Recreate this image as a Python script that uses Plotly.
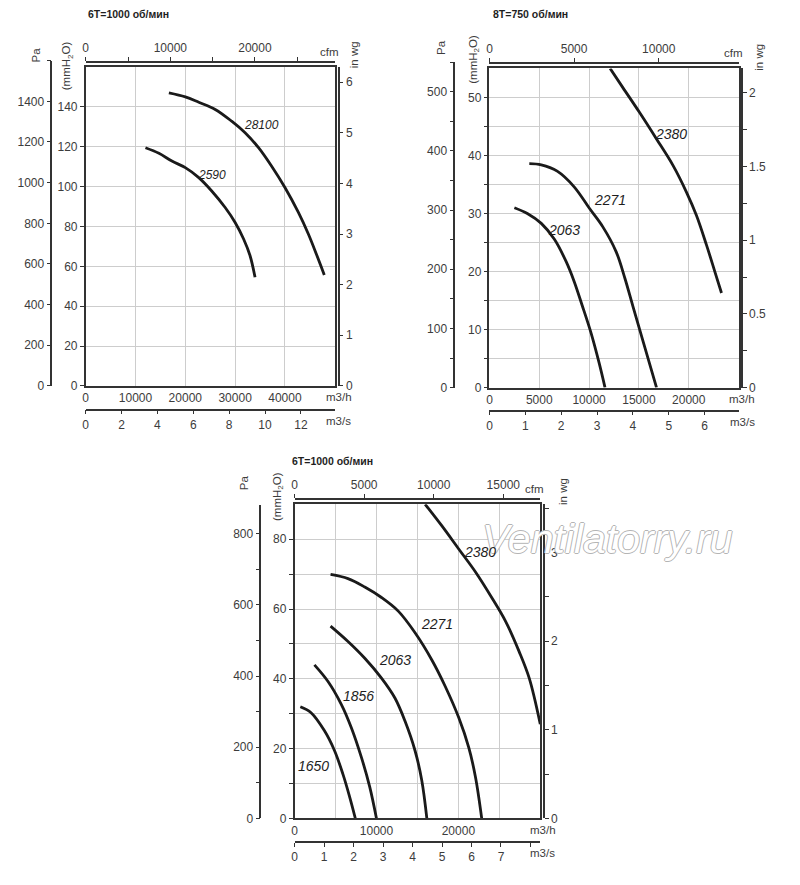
import plotly.graph_objects as go

W, H = 800, 885
PA_PER_MM = 9.80665
MM_PER_INWG = 25.4
M3H_PER_CFM = 1.699
M3H_PER_M3S = 3600.0

# --- panel 1: 6T=1000 об/мин (flow m3/h, pressure mmH2O) ---
p1_title = '6T=1000 об/мин'
p1_names = ['28100', '2590']
p1_flow = [
    [16700, 20000, 22700, 26000, 29300, 32000, 34700, 37300, 40000, 42700, 44700, 46300, 47900],
    [12000, 14700, 17300, 20000, 22700, 25300, 28000, 30000, 31700, 33000, 34000],
]
p1_press = [
    [147.0, 145.0, 142.3, 138.7, 132.8, 127.0, 119.5, 110.3, 99.5, 87.0, 76.2, 66.2, 55.7],
    [119.5, 116.7, 112.8, 109.5, 104.5, 97.8, 89.5, 82.0, 73.7, 65.3, 54.5],
]
p1_label_flow = [35200, 25300]
p1_label_press = [130.7, 105.7]

# --- panel 2: 8T=750 об/мин ---
p2_title = '8T=750 об/мин'
p2_names = ['2380', '2271', '2063']
p2_flow = [
    [12110, 13390, 15070, 16750, 18420, 19770, 20770, 21780, 22620, 23290],
    [4000, 5200, 6800, 8500, 10030, 11380, 12720, 13600, 14400, 15500, 16770],
    [2500, 3800, 5200, 6500, 7700, 8500, 9300, 10200, 11000, 11600],
]
p2_press = [
    [55.0, 51.7, 47.4, 42.9, 38.3, 33.7, 29.7, 24.6, 20.0, 16.3],
    [38.6, 38.4, 37.3, 34.6, 30.9, 27.7, 23.4, 18.8, 14.0, 7.5, 0.0],
    [31.0, 30.0, 28.3, 25.6, 21.7, 18.3, 14.2, 9.4, 4.3, 0.0],
]
p2_label_flow = [18250, 12050, 7500]
p2_label_press = [43.7, 32.3, 27.1]

# --- panel 3: 6T=1000 об/мин ---
p3_title = '6T=1000 об/мин'
p3_names = ['2380', '2271', '2063', '1856', '1650']
p3_flow = [
    [15940, 17990, 20040, 22090, 24140, 25780, 27420, 28650, 30000],
    [4390, 6520, 8570, 10610, 12660, 14710, 16760, 18400, 20040, 21270, 22090, 22850],
    [4390, 6520, 8570, 10610, 12250, 13480, 14710, 15530, 16150],
    [2420, 4060, 5700, 6930, 8160, 9180, 10000],
    [700, 2010, 3650, 4880, 5900, 6720, 7420],
]
p3_press = [
    [90.0, 83.8, 77.2, 70.6, 63.0, 56.4, 47.8, 40.2, 27.0],
    [69.9, 68.7, 66.3, 63.3, 59.4, 53.2, 45.4, 37.8, 28.9, 20.3, 11.8, 0.0],
    [55.1, 50.7, 45.9, 40.2, 34.5, 27.9, 19.4, 10.9, 0.0],
    [44.0, 39.3, 32.7, 26.0, 17.5, 9.0, 0.0],
    [32.0, 30.3, 25.1, 19.4, 12.7, 6.2, 0.0],
]
p3_label_flow = [22700, 17380, 12250, 7750, 2340]
p3_label_press = [76.3, 55.6, 45.3, 35.0, 15.1]

# --- axis ranges and ticks ---
p1_q_max, p1_mm_max, p1_pa_max = 50000, 160, 1600
p1_q_ticks = [0, 10000, 20000, 30000, 40000]
p1_q_minor = []
p1_mm_ticks = [0, 20, 40, 60, 80, 100, 120, 140]
p1_mm_minor = []
p1_pa_ticks = [0, 200, 400, 600, 800, 1000, 1200, 1400]
p1_pa_minor = [1600]
p1_wg_ticks = [0, 1, 2, 3, 4, 5, 6]
p1_wg_minor = []
p1_cfm_ticks = [0, 10000, 20000]
p1_cfm_minor = [5000, 15000, 25000]
p1_m3s_ticks = [0, 2, 4, 6, 8, 10, 12]
p1_m3s_minor = []

p2_q_max, p2_mm_max, p2_pa_max = 25000, 55, 550
p2_q_ticks = [0, 5000, 10000, 15000, 20000]
p2_q_minor = []
p2_mm_ticks = [0, 10, 20, 30, 40, 50]
p2_mm_minor = [5, 15, 25, 35, 45]
p2_pa_ticks = [0, 100, 200, 300, 400, 500]
p2_pa_minor = [50, 150, 250, 350, 450, 550]
p2_wg_ticks = [0, 0.5, 1, 1.5, 2]
p2_wg_minor = [0.25, 0.75, 1.25, 1.75]
p2_cfm_ticks = [0, 5000, 10000]
p2_cfm_minor = []
p2_m3s_ticks = [0, 1, 2, 3, 4, 5, 6]
p2_m3s_minor = []

p3_q_max, p3_mm_max, p3_pa_max = 30000, 90, 880
p3_q_ticks = [0, 10000, 20000]
p3_q_minor = [5000, 15000, 25000]
p3_mm_ticks = [0, 20, 40, 60, 80]
p3_mm_minor = [10, 30, 50, 70]
p3_pa_ticks = [0, 200, 400, 600, 800]
p3_pa_minor = [100, 300, 500, 700]
p3_wg_ticks = [0, 1, 2, 3]
p3_wg_minor = [0.5, 1.5, 2.5, 3.5]
p3_cfm_ticks = [0, 5000, 10000, 15000]
p3_cfm_minor = []
p3_m3s_ticks = [0, 1, 2, 3, 4, 5, 6, 7]
p3_m3s_minor = [8]

panels = [
    dict(title=p1_title, names=p1_names, flow=p1_flow, press=p1_press,
         lab_q=p1_label_flow, lab_p=p1_label_press,
         q_max=p1_q_max, mm_max=p1_mm_max, pa_max=p1_pa_max,
         q_ticks=p1_q_ticks, q_minor=p1_q_minor, mm_ticks=p1_mm_ticks, mm_minor=p1_mm_minor,
         pa_ticks=p1_pa_ticks, pa_minor=p1_pa_minor, wg_ticks=p1_wg_ticks, wg_minor=p1_wg_minor,
         cfm_ticks=p1_cfm_ticks, cfm_minor=p1_cfm_minor,
         m3s_ticks=p1_m3s_ticks, m3s_minor=p1_m3s_minor),
    dict(title=p2_title, names=p2_names, flow=p2_flow, press=p2_press,
         lab_q=p2_label_flow, lab_p=p2_label_press,
         q_max=p2_q_max, mm_max=p2_mm_max, pa_max=p2_pa_max,
         q_ticks=p2_q_ticks, q_minor=p2_q_minor, mm_ticks=p2_mm_ticks, mm_minor=p2_mm_minor,
         pa_ticks=p2_pa_ticks, pa_minor=p2_pa_minor, wg_ticks=p2_wg_ticks, wg_minor=p2_wg_minor,
         cfm_ticks=p2_cfm_ticks, cfm_minor=p2_cfm_minor,
         m3s_ticks=p2_m3s_ticks, m3s_minor=p2_m3s_minor),
    dict(title=p3_title, names=p3_names, flow=p3_flow, press=p3_press,
         lab_q=p3_label_flow, lab_p=p3_label_press,
         q_max=p3_q_max, mm_max=p3_mm_max, pa_max=p3_pa_max,
         q_ticks=p3_q_ticks, q_minor=p3_q_minor, mm_ticks=p3_mm_ticks, mm_minor=p3_mm_minor,
         pa_ticks=p3_pa_ticks, pa_minor=p3_pa_minor, wg_ticks=p3_wg_ticks, wg_minor=p3_wg_minor,
         cfm_ticks=p3_cfm_ticks, cfm_minor=p3_cfm_minor,
         m3s_ticks=p3_m3s_ticks, m3s_minor=p3_m3s_minor),
]

# pixel geometry of each panel (plot box, extra axis lines, label spots)
geo = [
    dict(left=83, right=333, top=67.5, bottom=389, pa_x=48.5, wg_x=337, cfm_y=62.5, m3s_y=413,
         lab_size=12, title_xy=(83, 14), pa_xy=(33, 55), mm_xy=(65, 66), wg_xy=(352, 55),
         cfm_xy=(328, 52), m3h_xy=(337, 400), m3s_xy=(337, 424)),
    dict(left=488.3, right=738.3, top=69, bottom=390.7, pa_x=453, wg_x=741.7, cfm_y=63.5, m3s_y=414,
         lab_size=14, title_xy=(490, 14), pa_xy=(439, 48), mm_xy=(472, 60), wg_xy=(758, 58),
         cfm_xy=(733, 53), m3h_xy=(742, 402), m3s_xy=(742, 425)),
    dict(left=292.7, right=539.3, top=508.3, bottom=825, pa_x=258.3, wg_x=543, cfm_y=503, m3s_y=849,
         lab_size=14, title_xy=(288, 465), pa_xy=(242, 487), mm_xy=(276, 500), wg_xy=(562, 495),
         cfm_xy=(533, 493), m3h_xy=(542, 837), m3s_xy=(542, 860)),
]

AX_COLOR = '#333333'
GRID_COLOR = '#cdcdcd'
TXT_COLOR = '#3c3c3c'


def fx(px):
    return px / W


def fy(py):
    return 1 - py / H


def ax_id(letter, k):
    return letter if k == 1 else f'{letter}{k}'


def ax_key(letter, k):
    return f'{letter}axis' if k == 1 else f'{letter}axis{k}'


fig = go.Figure()
axes = {}
annotations = []

# watermark first so that everything else sits above it
annotations.append(dict(
    text='<i>Ventilatorry.ru</i>', x=fx(607), y=fy(543), xref='paper', yref='paper',
    xanchor='center', yanchor='middle', showarrow=False,
    font=dict(family='Liberation Sans, Arial, sans-serif', size=41, color='#ffffff',
              shadow='1px 0 #b4b4b4, -1px 0 #b4b4b4, 0 1px #b4b4b4, 0 -1px #b4b4b4'),
))

for i, (pn, g) in enumerate(zip(panels, geo)):
    n = 3 * i + 1
    xm, xc, xs = ax_id('x', n), ax_id('x', n + 1), ax_id('x', n + 2)
    ym, yp, yw = ax_id('y', n), ax_id('y', n + 1), ax_id('y', n + 2)

    px_per_mm = (g['bottom'] - g['top']) / pn['mm_max']
    pa_top_px = g['bottom'] - pn['pa_max'] * px_per_mm / PA_PER_MM

    line = dict(showline=True, linecolor=AX_COLOR, linewidth=1.5, zeroline=False,
                tickcolor=AX_COLOR, tickwidth=1.2, fixedrange=True, tickformat='d')

    # main flow axis (m3/h) and pressure axis (mmH2O)
    axes[ax_key('x', n)] = dict(
        line, domain=[fx(g['left']), fx(g['right'])], anchor=ym, range=[0, pn['q_max']],
        tickmode='array', tickvals=pn['q_ticks'], ticks='', mirror=True,
        showgrid=True, gridcolor=GRID_COLOR, gridwidth=1.3,
        minor=dict(tickvals=pn['q_minor'], showgrid=True, gridcolor=GRID_COLOR, gridwidth=1.3),
    )
    axes[ax_key('y', n)] = dict(
        line, domain=[fy(g['bottom']), fy(g['top'])], anchor=xm, range=[0, pn['mm_max']],
        tickmode='array', tickvals=pn['mm_ticks'], ticks='outside', ticklen=4, mirror=True,
        showgrid=True, gridcolor=GRID_COLOR, gridwidth=1.3,
        minor=dict(tickvals=pn['mm_minor'], ticks='outside', ticklen=4, tickcolor=AX_COLOR,
                   showgrid=True, gridcolor=GRID_COLOR, gridwidth=1.3),
    )
    # secondary scales
    axes[ax_key('x', n + 1)] = dict(
        line, overlaying=xm, anchor='free', position=fy(g['cfm_y']), side='top',
        range=[0, pn['q_max'] / M3H_PER_CFM], tickmode='array', tickvals=pn['cfm_ticks'],
        ticks='outside', ticklen=4, showgrid=False,
        minor=dict(tickvals=pn['cfm_minor'], ticks='outside', ticklen=4, tickcolor=AX_COLOR),
    )
    axes[ax_key('x', n + 2)] = dict(
        line, overlaying=xm, anchor='free', position=fy(g['m3s_y']), side='bottom',
        range=[0, pn['q_max'] / M3H_PER_M3S], tickmode='array', tickvals=pn['m3s_ticks'],
        ticks='outside', ticklen=4, showgrid=False,
        minor=dict(tickvals=pn['m3s_minor'], ticks='outside', ticklen=4, tickcolor=AX_COLOR),
    )
    axes[ax_key('y', n + 1)] = dict(
        line, domain=[fy(g['bottom']), fy(pa_top_px)], anchor='free', position=fx(g['pa_x']),
        side='left', range=[0, pn['pa_max']], tickmode='array', tickvals=pn['pa_ticks'],
        ticks='outside', ticklen=4, showgrid=False,
        minor=dict(tickvals=pn['pa_minor'], ticks='outside', ticklen=4, tickcolor=AX_COLOR),
    )
    axes[ax_key('y', n + 2)] = dict(
        line, overlaying=ym, anchor='free', position=fx(g['wg_x']), side='right',
        range=[0, pn['mm_max'] / MM_PER_INWG], tickmode='array', tickvals=pn['wg_ticks'],
        tickformat='', ticks='outside', ticklen=4, showgrid=False,
        minor=dict(tickvals=pn['wg_minor'], ticks='outside', ticklen=4, tickcolor=AX_COLOR),
    )

    # empty traces so the extra scales get drawn
    fig.add_trace(go.Scatter(x=[], y=[], xaxis=xc, yaxis=yp, showlegend=False, hoverinfo='skip'))
    fig.add_trace(go.Scatter(x=[], y=[], xaxis=xs, yaxis=yw, showlegend=False, hoverinfo='skip'))

    # fan curves
    for name, q, p in zip(pn['names'], pn['flow'], pn['press']):
        fig.add_trace(go.Scatter(
            x=q, y=p, xaxis=xm, yaxis=ym, mode='lines', name=name, showlegend=False,
            line=dict(color='#1a1a1a', width=2.8, shape='spline', smoothing=1.0),
        ))
    for name, q, p in zip(pn['names'], pn['lab_q'], pn['lab_p']):
        annotations.append(dict(
            text=f'<i>{name}</i>', x=q, y=p, xref=xm, yref=ym, showarrow=False,
            font=dict(size=g['lab_size'], color='#1e1e1e'),
        ))

    # titles and unit labels
    annotations.append(dict(
        text=f'<b>{pn["title"]}</b>', x=fx(g['title_xy'][0]), y=fy(g['title_xy'][1]),
        xref='paper', yref='paper', xanchor='left', yanchor='middle', showarrow=False,
        font=dict(size=10.5, color='#1e1e1e'),
    ))
    for txt, key, angle in [('Pa', 'pa_xy', -90), ('(mmH<sub>2</sub>O)', 'mm_xy', -90),
                            ('in wg', 'wg_xy', -90), ('cfm', 'cfm_xy', 0),
                            ('m3/h', 'm3h_xy', 0), ('m3/s', 'm3s_xy', 0)]:
        annotations.append(dict(
            text=txt, x=fx(g[key][0]), y=fy(g[key][1]), xref='paper', yref='paper',
            xanchor='center', yanchor='middle', showarrow=False, textangle=angle,
            font=dict(size=11.5, color=TXT_COLOR),
        ))

fig.update_layout(
    width=W, height=H,
    margin=dict(l=0, r=0, t=0, b=0),
    paper_bgcolor='white', plot_bgcolor='rgba(0,0,0,0)',
    font=dict(family='Liberation Sans, Arial, sans-serif', size=12, color=TXT_COLOR),
    showlegend=False,
    annotations=annotations,
    **axes,
)

fig.write_html('out.html', config={'displayModeBar': False},
               post_script="document.body.style.margin='0px';")
